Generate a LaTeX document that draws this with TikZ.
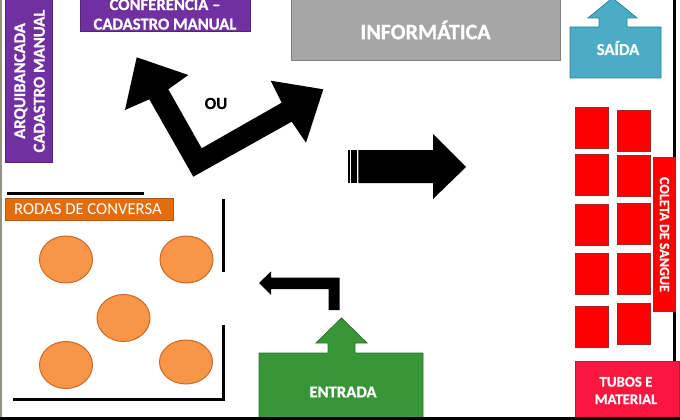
\documentclass[tikz,border=0pt]{standalone}
\usepackage{fontspec}
\setmainfont{Carlito}[BoldFont=Carlito Bold,BoldFeatures={FakeBold=0.8}]
\usetikzlibrary{shapes.geometric}
\definecolor{purp}{RGB}{112,48,160}
\definecolor{purpd}{RGB}{85,35,125}
\definecolor{infog}{RGB}{166,166,166}
\definecolor{infogd}{RGB}{127,127,127}
\definecolor{saidac}{RGB}{75,172,198}
\definecolor{saidad}{RGB}{50,125,150}
\definecolor{seatd}{RGB}{160,40,40}
\definecolor{tubos}{RGB}{250,22,62}
\definecolor{rodas}{RGB}{228,108,10}
\definecolor{circ}{RGB}{247,150,70}
\definecolor{circd}{RGB}{205,105,40}
\definecolor{verde}{RGB}{56,150,56}
\definecolor{verded}{RGB}{40,115,40}
\definecolor{bordg}{RGB}{150,145,135}
\begin{document}
\begin{tikzpicture}[x=1pt,y=-1pt,
  lbl/.style={text=white,font=\bfseries\fontsize{16.7}{19.5}\selectfont,align=center,inner sep=0pt},
  seat/.style={draw=seatd,fill=red,line width=0.8pt,minimum width=33pt,minimum height=41pt,inner sep=0pt},
  roda/.style={ellipse,draw=circd,fill=circ,line width=1pt,minimum width=53pt,minimum height=47pt,inner sep=0pt},
  wall/.style={line width=3pt,black},
  blk/.style={fill=black}]
\useasboundingbox (0,0) rectangle (680,420);
\clip (0,0) rectangle (680,420);
% frame lines
\draw[bordg,line width=2.2pt] (1.1,0) -- (1.1,420);
\draw[wall] (674.5,0) -- (674.5,420);
% ARQUIBANCADA
\draw[draw=purpd,fill=purp,line width=0.8pt] (5,-5) rectangle (52,162);
\node[lbl,rotate=90] (arq) at (29.5,81) {ARQUIBANCADA\\CADASTRO MANUAL};
% CONFERENCIA
\draw[draw=purpd,fill=purp,line width=0.8pt] (80,-20) rectangle (250,31);
\node[lbl] (conf) at (165,13) {CONFERÊNCIA –\\CADASTRO MANUAL};
% INFORMATICA
\draw[draw=infogd,fill=infog,line width=1pt] (291,-5) rectangle (560,61);
\node[lbl,font=\bfseries\fontsize{22}{24}\selectfont] (info) at (425.5,30) {INFORMÁTICA};
% SAIDA
\draw[draw=saidad,fill=saidac,line width=0.8pt]
  (570,27) -- (599,27) -- (599,18) -- (588,18) -- (612.5,-2) -- (637,18) -- (627,18) -- (627,27)
  -- (661,27) -- (661,78) -- (570,78) -- cycle;
\node[lbl] (saida) at (618,48) {SAÍDA};
% bent double arrow
\fill[black] (193.3,176.7) -- (291.7,121.7) -- (306,142.7) -- (323.3,89.3) -- (270.7,80.7)
  -- (281.7,102.7) -- (201.7,148.3) -- (168.3,89.3) -- (188.3,75) -- (136.7,57.3)
  -- (125,110) -- (149.3,99.3) -- cycle;
\node[font=\bfseries\fontsize{17}{19}\selectfont,inner sep=0pt] (ou) at (216,103.5) {OU};
% striped right arrow
\fill[black] (358.3,150) -- (433,150) -- (433,134) -- (466,167) -- (433,199) -- (433,183) -- (358.3,183) -- cycle;
\fill[black] (348.3,150) rectangle (350,183);
\fill[black] (351,150) rectangle (357.3,183);
% seats
\node[seat] (s11) at (591.5,127.5) {};
\node[seat] (s21) at (633.5,130.5) {};
\node[seat] (s12) at (591.5,175) {};
\node[seat] (s22) at (633.5,176) {};
\node[seat] (s13) at (591.5,224.5) {};
\node[seat] (s23) at (633.5,224) {};
\node[seat] (s14) at (591.5,274) {};
\node[seat] (s24) at (633.5,274) {};
\node[seat] (s15) at (591.5,326.5) {};
\node[seat] (s25) at (633.5,323.5) {};
% COLETA
\draw[draw=seatd,fill=red,line width=0.6pt] (653.5,157) rectangle (675.5,311);
\node[lbl,rotate=-90,font=\bfseries\fontsize{14}{16}\selectfont] (coleta) at (664.5,234.5) {COLETA DE SANGUE};
% TUBOS
\draw[draw=tubos!80!black,fill=tubos,line width=0.6pt] (575,361) rectangle (679,425);
\node[lbl,font=\bfseries\fontsize{14.8}{17.5}\selectfont] (tubos) at (626,390.5) {TUBOS E\\MATERIAL};
% RODAS area walls
\draw[wall] (7,193) -- (144,193);
\draw[wall] (223,199) -- (223,272);
\draw[wall] (223,325) -- (223,400.5);
\draw[wall] (13,399) -- (224.5,399);
\draw[draw=rodas!80!black,fill=rodas,line width=0.6pt] (5,198) rectangle (173,220);
\node[text=white,font=\fontsize{16.7}{19}\selectfont,anchor=west,inner sep=0pt] (rodas) at (14,209.5) {RODAS DE CONVERSA};
\node[roda] (c1) at (66,259.5) {};
\node[roda] (c2) at (186.5,259.5) {};
\node[roda] (c3) at (123.5,318) {};
\node[roda] (c4) at (66,365) {};
\node[roda,minimum height=44pt] (c5) at (186,362) {};
% L arrow
\fill[black] (259,283) -- (271,271.5) -- (271,277.5) -- (339.5,277.5) -- (339.5,310) -- (328.5,310)
  -- (328.5,289) -- (271,289) -- (271,295) -- cycle;
% ENTRADA
\draw[draw=verded,fill=verde,line width=0.8pt]
  (259,353) -- (328,353) -- (328,343) -- (316,343) -- (341.5,318) -- (367,343) -- (355,343) -- (355,353)
  -- (423,353) -- (423,425) -- (259,425) -- cycle;
\node[lbl] (entrada) at (343,392) {ENTRADA};
% bottom line
\draw[wall] (0,418.5) -- (680,418.5);
\end{tikzpicture}
\end{document}
